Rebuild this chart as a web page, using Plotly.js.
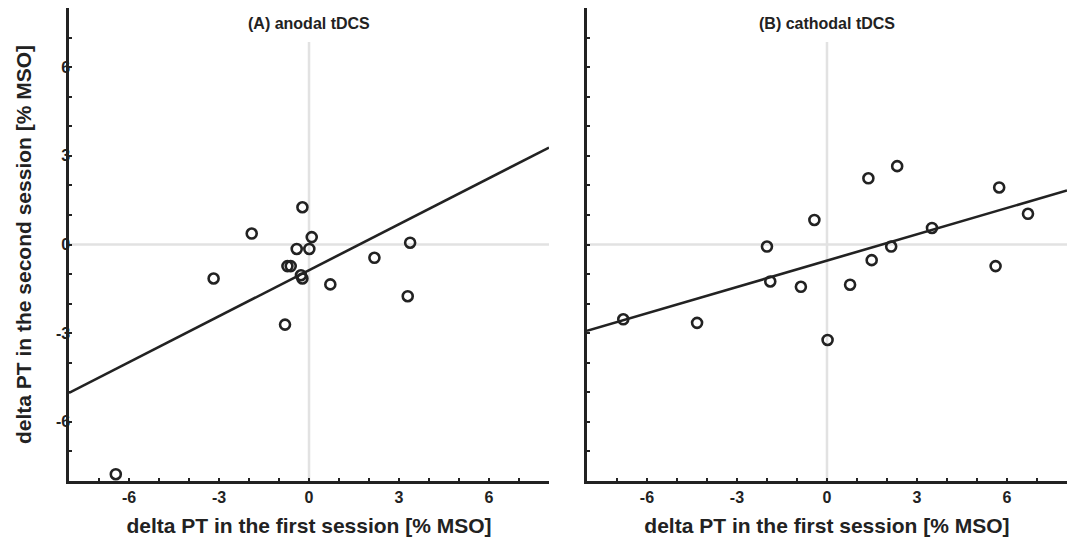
<!DOCTYPE html>
<html>
<head>
<meta charset="utf-8">
<script src="https://cdn.plot.ly/plotly-3.0.1.min.js"></script>
<style>html,body{margin:0;padding:0;background:#fff;}#chart{width:1069px;height:538px;}</style>
</head>
<body>
<div id="chart"></div>
<script>
// Panel A: anodal tDCS
const anodalX = [-0.22, -1.91, 0.09, 3.37, -0.41, 0.01, 2.18, -0.72, -0.61, -0.27, -0.22, -3.18, 0.71, 3.29, -0.80, -6.44];
const anodalY = [1.26, 0.37, 0.25, 0.06, -0.15, -0.15, -0.45, -0.73, -0.73, -1.04, -1.15, -1.15, -1.35, -1.75, -2.71, -7.77];
// Panel B: cathodal tDCS
const cathodalX = [-6.79, -4.33, -2.00, -1.89, -0.87, -0.42, 0.02, 0.77, 1.38, 1.49, 2.34, 2.14, 3.50, 5.62, 5.74, 6.70];
const cathodalY = [-2.53, -2.65, -0.07, -1.25, -1.43, 0.83, -3.23, -1.36, 2.24, -0.53, 2.65, -0.07, 0.56, -0.73, 1.93, 1.04];
// Regression lines (endpoints)
const fitX = [-8, 8];
const fitA = [-5.02, 3.28];
const fitB = [-2.92, 1.83];
// Titles and ticks
const panelTitles = ["(A) anodal tDCS", "(B) cathodal tDCS"];
const xTitle = "delta PT in the first session [% MSO]";
const yTitle = "delta PT in the second session [% MSO]";
const tickPositions = [-7, -6, -5, -4, -3, -2, -1, 0, 1, 2, 3, 4, 5, 6, 7];
const tickLabels = ["", "-6", "", "", "-3", "", "", "0", "", "", "3", "", "", "6", ""];

const ink = "#222222";
const fnt = "Liberation Sans, Arial, sans-serif";

const marker = {symbol: "circle-open", size: 10, color: ink, line: {width: 2.6, color: ink}};

const traces = [
  {x: fitX, y: fitA, mode: "lines", line: {color: ink, width: 2.6}, xaxis: "x", yaxis: "y", hoverinfo: "skip"},
  {x: anodalX, y: anodalY, mode: "markers", marker: marker, xaxis: "x", yaxis: "y"},
  {x: fitX, y: fitB, mode: "lines", line: {color: ink, width: 2.6}, xaxis: "x2", yaxis: "y2", hoverinfo: "skip"},
  {x: cathodalX, y: cathodalY, mode: "markers", marker: marker, xaxis: "x2", yaxis: "y2"}
];

function axisBase() {
  return {
    range: [-8, 8],
    showgrid: false,
    zeroline: false,
    showline: true,
    linecolor: ink,
    linewidth: 2.6,
    ticks: "inside",
    ticklen: 3,
    tickwidth: 2,
    tickcolor: ink,
    tickmode: "array",
    tickvals: tickPositions,
    ticktext: tickLabels.map(t => t ? "<b>" + t + "</b>" : ""),
    tickfont: {family: fnt, size: 16, color: ink},
    fixedrange: true
  };
}

const titleFont = {family: fnt, size: 21, color: ink};

const xa = Object.assign(axisBase(), {domain: [0, 0.481], anchor: "y",
  title: {text: "<b>" + xTitle + "</b>", font: titleFont, standoff: 14}});
const xb = Object.assign(axisBase(), {domain: [0.519, 1], anchor: "y2",
  title: {text: "<b>" + xTitle + "</b>", font: titleFont, standoff: 14}});
const ya = Object.assign(axisBase(), {anchor: "x", ticklabelstandoff: -7,
  title: {text: "<b>" + yTitle + "</b>", font: titleFont, standoff: 19}});
const yb = Object.assign(axisBase(), {anchor: "x2", showticklabels: false});

function zeroShapes(xr, yr) {
  return [
    {type: "line", xref: xr, yref: yr, x0: 0, x1: 0, y0: -8, y1: 6.85, line: {color: "#e2e2e2", width: 2.5}, layer: "below"},
    {type: "line", xref: xr, yref: yr, x0: -8, x1: 8, y0: 0, y1: 0, line: {color: "#e2e2e2", width: 2.5}, layer: "below"}
  ];
}

const layout = {
  width: 1069, height: 538,
  margin: {l: 69, r: 2, t: 8, b: 57},
  font: {family: fnt, size: 16, color: ink},
  paper_bgcolor: "#fff", plot_bgcolor: "#fff",
  showlegend: false,
  xaxis: xa, yaxis: ya, xaxis2: xb, yaxis2: yb,
  shapes: zeroShapes("x", "y").concat(zeroShapes("x2", "y2")),
  annotations: [
    {xref: "x", yref: "y", x: 0, y: 7.47, text: "<b>" + panelTitles[0] + "</b>", showarrow: false, font: {family: fnt, size: 16, color: ink}},
    {xref: "x2", yref: "y2", x: 0, y: 7.47, text: "<b>" + panelTitles[1] + "</b>", showarrow: false, font: {family: fnt, size: 16, color: ink}}
  ]
};

Plotly.newPlot("chart", traces, layout, {displayModeBar: false, staticPlot: true});
</script>
</body>
</html>
